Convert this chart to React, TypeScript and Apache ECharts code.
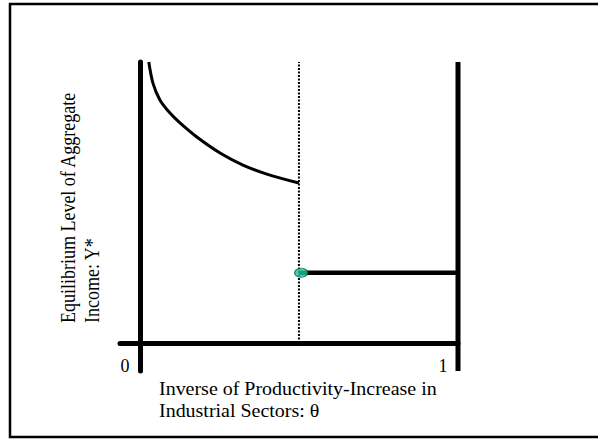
import React, { useEffect, useRef } from "react";
import * as echarts from "echarts";

// Curve: equilibrium income for theta below threshold
const curveTheta = [0.028, 0.041, 0.063, 0.094, 0.126, 0.179, 0.252, 0.324, 0.399, 0.5];
const curveIncome = [1.0, 0.925, 0.865, 0.819, 0.783, 0.733, 0.676, 0.633, 0.601, 0.569];
// Flat segment above threshold
const flatTheta = [0.5, 1];
const flatIncome = [0.25, 0.25];
// Threshold (dotted)
const thresholdTheta = 0.5;
const thresholdRange = [0, 1];
// Marker point
const pointTheta = 0.507;
const pointIncome = 0.25;
// Right boundary
const boundaryTheta = 1;
const boundaryRange = [-0.1, 1];
// Tick labels
const tickValues = [0, 1];
const tickLabels = ["0", "1"];
const xTitle = ["Inverse of Productivity-Increase in", "Industrial Sectors: \u03b8"];
const yTitle = ["Equilibrium Level of Aggregate", "Income: Y*"];

const FONT = '"Liberation Serif", "Times New Roman", serif';
const STRETCH = 1.11;

export default function App() {
  const ref = useRef<HTMLDivElement>(null);
  useEffect(() => {
    if (!ref.current) return;
    const chart = echarts.init(ref.current, null, { renderer: "svg" });
    chart.setOption({
      animation: false,
      backgroundColor: "#ffffff",
      grid: { left: 120, right: 140, top: 62, bottom: 68 },
      xAxis: {
        type: "value",
        min: -0.0625,
        max: 1,
        axisLine: { show: true, onZero: true, lineStyle: { color: "#000", width: 5 } },
        axisTick: { show: false },
        splitLine: { show: false },
        axisLabel: {
          customValues: tickValues,
          formatter: (v: number) => tickLabels[tickValues.indexOf(v)] ?? "",
          color: "#000",
          fontFamily: FONT,
          fontSize: 18,
          margin: -14,
          padding: [0, 30, 0, 0],
        },
      },
      yAxis: {
        type: "value",
        min: -0.1,
        max: 1,
        axisLine: { show: true, onZero: true, lineStyle: { color: "#000", width: 5 } },
        axisTick: { show: false },
        splitLine: { show: false },
        axisLabel: { show: false },
      },
      series: [
        {
          type: "line",
          data: curveTheta.map((t, i) => [t, curveIncome[i]]),
          smooth: 0.3,
          showSymbol: false,
          lineStyle: { color: "#000", width: 3 },
          clip: false,
        },
        {
          type: "line",
          data: thresholdRange.map((y) => [thresholdTheta, y]),
          showSymbol: false,
          lineStyle: { color: "#000", width: 2, type: [2, 1.5] },
        },
        {
          type: "line",
          data: flatTheta.map((t, i) => [t, flatIncome[i]]),
          showSymbol: false,
          lineStyle: { color: "#000", width: 4.5 },
        },
        {
          type: "line",
          data: boundaryRange.map((y) => [boundaryTheta, y]),
          showSymbol: false,
          lineStyle: { color: "#000", width: 5 },
          clip: false,
        },
        {
          type: "scatter",
          data: [[pointTheta, pointIncome]],
          symbol: "circle",
          symbolSize: [13, 9],
          itemStyle: { color: "#1cc79c", borderColor: "#0b5c46", borderWidth: 1 },
          z: 5,
        },
      ],
      graphic: [
        {
          type: "rect",
          shape: { x: 10, y: 4, width: 600, height: 433 },
          style: { fill: "none", stroke: "#000", lineWidth: 2.5 },
          silent: true,
        },
        {
          type: "text",
          x: 159,
          y: 389,
          scaleX: STRETCH,
          style: { text: xTitle[0], font: `18px ${FONT}`, fill: "#000", textAlign: "left", textVerticalAlign: "middle" },
        },
        {
          type: "text",
          x: 159,
          y: 411,
          scaleX: STRETCH,
          style: { text: xTitle[1], font: `18px ${FONT}`, fill: "#000", textAlign: "left", textVerticalAlign: "middle" },
        },
        {
          type: "text",
          x: 68,
          y: 323,
          rotation: Math.PI / 2,
          scaleY: STRETCH,
          style: { text: yTitle[0], font: `18px ${FONT}`, fill: "#000", textAlign: "left", textVerticalAlign: "middle" },
        },
        {
          type: "text",
          x: 92,
          y: 323,
          rotation: Math.PI / 2,
          scaleY: STRETCH,
          style: { text: yTitle[1], font: `18px ${FONT}`, fill: "#000", textAlign: "left", textVerticalAlign: "middle" },
        },
      ],
    });
    return () => chart.dispose();
  }, []);
  return (
    <div style={{ position: "fixed", left: 0, top: 0, width: 598, height: 439 }}>
      <div ref={ref} style={{ width: 598, height: 439 }} />
    </div>
  );
}
